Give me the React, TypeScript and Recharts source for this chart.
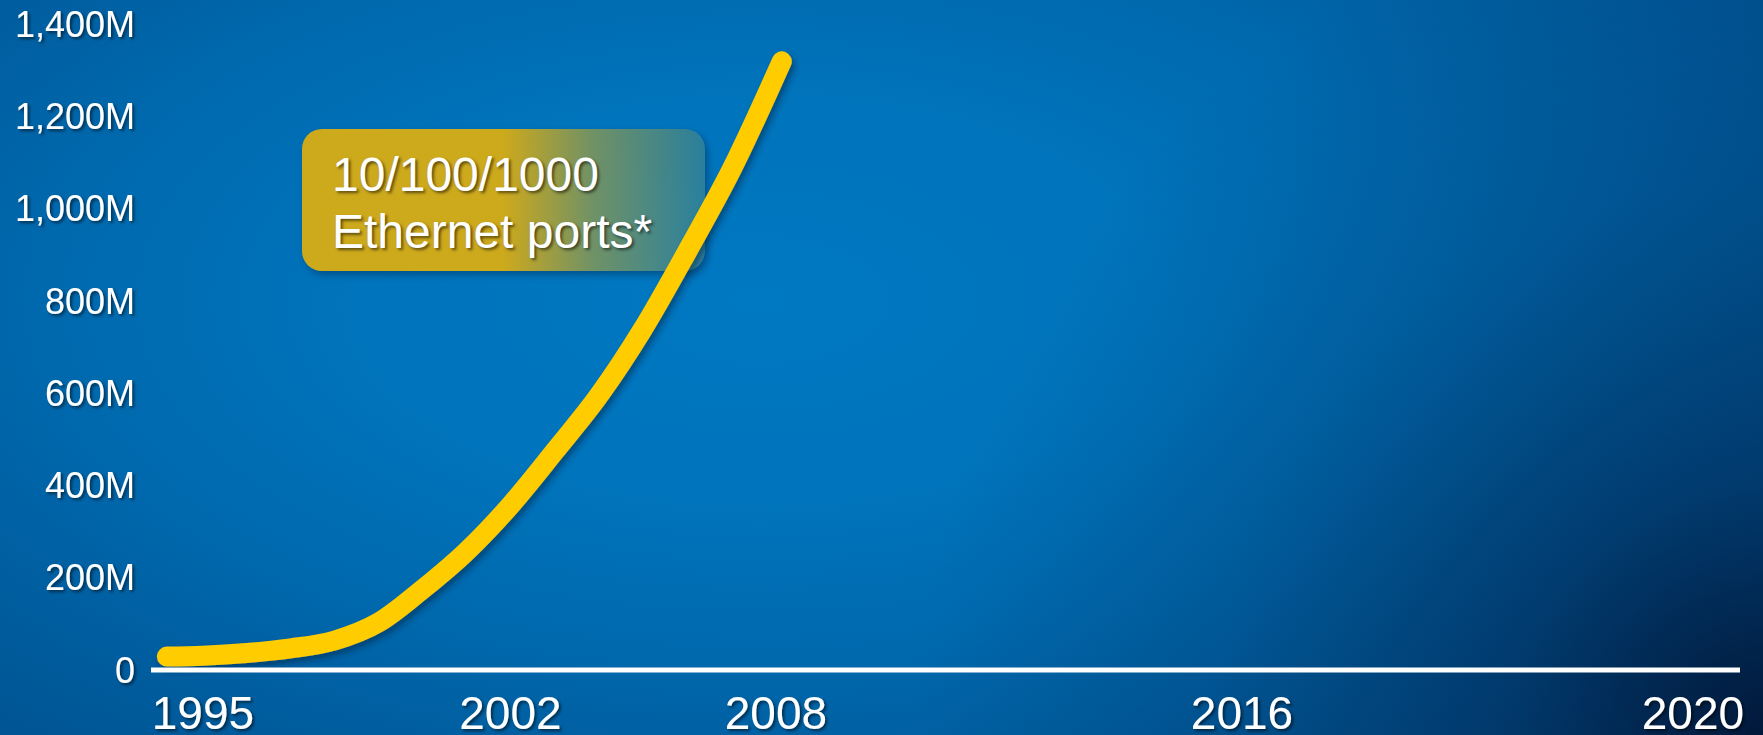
import React from 'react';
import { LineChart, Line, XAxis, YAxis } from 'recharts';

// ---- data ----
const years = [1994.18, 1995, 1996, 1997, 1998, 1999, 2000, 2001, 2002, 2003, 2004, 2005, 2006, 2007, 2008.1];
const portsMillions = [29, 31, 37, 47, 64, 103, 175, 257, 357, 474, 595, 740, 908, 1085, 1319];

const xTicks = [1995, 2002, 2008, 2016, 2020];
const yTicks = [0, 200, 400, 600, 800, 1000, 1200, 1400];
const yTickLabels = ['0', '200M', '400M', '600M', '800M', '1,000M', '1,200M', '1,400M'];

const annotationLines = ['10/100/1000', 'Ethernet ports*'];

// The slide's year axis is not evenly spaced: stops (years) and their share of the axis length.
const axisStopYears = [1993.82, 1995, 2002, 2008, 2016, 2020, 2020.42];
const axisStopShares = [0, 0.0327, 0.2262, 0.3933, 0.6866, 0.9704, 1];

const data = years.map((year, i) => ({ year, ports: portsMillions[i] }));

const W = 1763;
const H = 735;
const FONT = '"Liberation Sans", Arial, Helvetica, sans-serif';

function piecewiseScale(stops: number[], shares: number[]): any {
  let dom: number[] = [stops[0], stops[stops.length - 1]];
  let rng: number[] = [0, 1];
  const toShare = (v: number) => {
    let i = 0;
    while (i < stops.length - 2 && v > stops[i + 1]) i++;
    const t = (v - stops[i]) / (stops[i + 1] - stops[i]);
    return shares[i] + t * (shares[i + 1] - shares[i]);
  };
  const s: any = (v: any) => {
    const n = Number(v);
    if (v === null || v === undefined || !isFinite(n)) return undefined;
    const f = toShare(n);
    return rng[0] + f * (rng[rng.length - 1] - rng[0]);
  };
  s.domain = (d?: any) => {
    if (d === undefined) return dom.slice();
    dom = Array.from(d).map(Number);
    return s;
  };
  s.range = (r?: any) => {
    if (r === undefined) return rng.slice();
    rng = Array.from(r).map(Number);
    return s;
  };
  s.copy = () => piecewiseScale(stops, shares).domain(dom).range(rng);
  s.ticks = () => stops.slice(1, -1);
  s.tickFormat = () => (v: any) => String(v);
  s.clamp = () => s;
  s.nice = () => s;
  s.invert = (px: number) => {
    const f = (px - rng[0]) / (rng[rng.length - 1] - rng[0]);
    let i = 0;
    while (i < shares.length - 2 && f > shares[i + 1]) i++;
    const t = (f - shares[i]) / (shares[i + 1] - shares[i]);
    return stops[i] + t * (stops[i + 1] - stops[i]);
  };
  return s;
}

const xScale = piecewiseScale(axisStopYears, axisStopShares);

const css = `
body { margin: 0; }
.recharts-cartesian-axis-tick-value { filter: url(#txtShadow); }
.recharts-line-curve { stroke-linecap: round; stroke-linejoin: round; filter: url(#lineShadow); }
`;

export default function App() {
  return (
    <div>
      <style>{css}</style>
      <svg width={0} height={0} style={{ position: 'absolute' }}>
        <defs>
          <filter id="txtShadow" x="-20%" y="-30%" width="140%" height="160%">
            <feDropShadow dx="2" dy="2" stdDeviation="1.4" floodColor="#000" floodOpacity="0.55" />
          </filter>
          <filter id="lineShadow" x="-10%" y="-10%" width="120%" height="120%">
            <feDropShadow dx="3" dy="4" stdDeviation="3" floodColor="#001a3a" floodOpacity="0.5" />
          </filter>
        </defs>
      </svg>
      <div
        style={{
          position: 'relative',
          width: W,
          height: H,
          overflow: 'hidden',
          fontFamily: FONT,
          background:
            'radial-gradient(circle 1000px at 100% 100%, rgba(2,16,45,0.85) 0%, rgba(2,20,55,0.45) 25%, rgba(2,30,70,0.18) 55%, rgba(0,40,90,0) 85%),' +
            'radial-gradient(ellipse 1000px 500px at 760px 300px, #0078C2 0%, #0074BC 40%, #0069AE 70%, #005B9C 100%, #00508E 125%, #00457F 140%)',
        }}
      >
        <div
          style={{
            position: 'absolute',
            left: 302,
            top: 129,
            width: 403,
            height: 142,
            boxSizing: 'border-box',
            borderRadius: 20,
            paddingLeft: 30,
            paddingTop: 17,
            background:
              'linear-gradient(to right, rgba(205,169,28,1) 0%, rgba(205,169,28,1) 50%, rgba(205,169,28,0.55) 72%, rgba(205,169,28,0.2) 100%)',
            boxShadow: '3px 4px 7px rgba(0,20,50,0.35)',
            color: '#fff',
            fontSize: 48,
            lineHeight: '57px',
            textShadow: '2px 2px 3px rgba(0,0,0,0.55)',
            whiteSpace: 'nowrap',
          }}
        >
          {annotationLines.map((t) => (
            <div key={t}>{t}</div>
          ))}
        </div>
        <div style={{ position: 'absolute', left: 0, top: 0 }}>
          <LineChart width={W} height={H} data={data} margin={{ top: 24, right: 23, bottom: 0, left: 0 }}>
            <XAxis
              dataKey="year"
              type="number"
              scale={xScale}
              domain={[axisStopYears[0], axisStopYears[axisStopYears.length - 1]]}
              ticks={xTicks}
              interval={0}
              height={65}
              tickLine={false}
              tickSize={0}
              tickMargin={26}
              axisLine={{ stroke: '#ffffff', strokeWidth: 5 }}
              tick={{ fill: '#ffffff', fontSize: 46, fontFamily: FONT }}
              allowDataOverflow
            />
            <YAxis
              type="number"
              domain={[0, 1400]}
              ticks={yTicks}
              interval={0}
              width={151}
              tickLine={false}
              axisLine={false}
              tickSize={0}
              tickMargin={16}
              tickFormatter={(v: number) => yTickLabels[yTicks.indexOf(v)] ?? String(v)}
              tick={{ fill: '#ffffff', fontSize: 36, fontFamily: FONT }}
            />
            <Line
              dataKey="ports"
              type="monotone"
              stroke="#FFCC00"
              strokeWidth={20}
              dot={false}
              activeDot={false}
              isAnimationActive={false}
            />
          </LineChart>
        </div>
      </div>
    </div>
  );
}
